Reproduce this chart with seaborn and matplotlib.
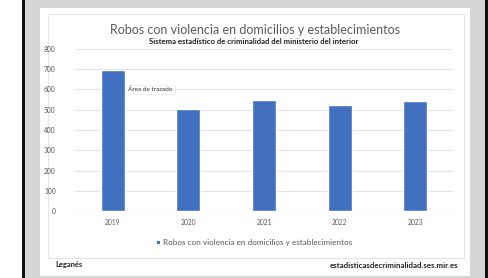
import matplotlib
matplotlib.use("Agg")
import matplotlib.pyplot as plt
from matplotlib.patches import Rectangle
import pandas as pd
import seaborn as sns

years = ["2019", "2020", "2021", "2022", "2023"]
robos = [698, 502, 548, 523, 543]
serie = "Robos con violencia en domicilios y establecimientos"
titulo = "Robos con violencia en domicilios y establecimientos"
subtitulo = "Sistema estadístico de criminalidad del ministerio del interior"

df = pd.DataFrame({"year": years, "valor": robos, "serie": serie})

sns.set_theme(style="white")
plt.rcParams["font.family"] = ["Lato", "DejaVu Sans"]

W, H = 489, 278
fig = plt.figure(figsize=(W / 100, H / 100), dpi=100)
fig.patch.set_facecolor("white")


def box(x0, y0, x1, y1, **kw):
    # pixel coords (top-left origin) -> figure rectangle, kept under the axes
    fig.patches.append(Rectangle((x0 / W, 1 - y1 / H), (x1 - x0) / W, (y1 - y0) / H,
                                 transform=fig.transFigure, figure=fig, zorder=-5, **kw))


# frame: black edges, gray surround, white panel, thin inner border
box(22, 0, 25, 278, facecolor="#111111", edgecolor="none")
box(485, 0, 489, 278, facecolor="#111111", edgecolor="none")
box(25, 0, 485, 278, facecolor="#d6d6d6", edgecolor="none")
box(40, 8, 470, 276, facecolor="white", edgecolor="none")
box(48, 14, 464, 258, facecolor="none", edgecolor="#e4e4e4", linewidth=0.8)

ax = fig.add_axes([75 / W, 1 - 211 / H, (453 - 75) / W, (211 - 49) / H])
ax.set_facecolor("none")
sns.barplot(data=df, x="year", y="valor", hue="serie", palette=["#4270c0"],
            saturation=1, width=0.32, ax=ax, legend=False)
ax.set_ylim(0, 800)
ax.set_xlim(-0.5, 4.5)
ax.set_yticks(range(0, 801, 100))
ax.yaxis.grid(True, color="#e3e3e3", linewidth=0.8)
ax.set_axisbelow(True)
for s in ax.spines.values():
    s.set_visible(False)
ax.axhline(0, color="#d9d9d9", linewidth=0.8, zorder=0.5)
ax.set_xlabel("")
ax.set_ylabel("")
ax.tick_params(axis="both", labelsize=4.8, colors="#595959", length=0, pad=6)
ax.tick_params(axis="y", pad=14)

fig.text(255 / W, 1 - 30 / H, titulo, ha="center", va="center",
         fontsize=9.0, color="#595959")
fig.text(254 / W, 1 - 42 / H, subtitulo, ha="center", va="center",
         fontsize=5.6, color="#222222", fontweight="bold")

# legend
fig.patches.append(Rectangle((157 / W, 1 - 244 / H), 3.5 / W, 3.5 / H,
                             transform=fig.transFigure, figure=fig,
                             facecolor="#4270c0", edgecolor="none"))
fig.text(163 / W, 1 - 242 / H, serie, ha="left", va="center",
         fontsize=5.9, color="#595959")

# tooltip
ax.text(128 / W, 1 - 89.5 / H, "Área de trazado", transform=fig.transFigure,
        ha="left", va="center", fontsize=4.6, color="#333333",
        bbox=dict(boxstyle="square,pad=0.35", facecolor="white",
                  edgecolor="#ececec", linewidth=0.5))

fig.text(55 / W, 1 - 265 / H, "Leganés", ha="left", va="center",
         fontsize=5.4, color="#222222", fontweight="bold")
fig.text(458 / W, 1 - 265 / H, "estadisticasdecriminalidad.ses.mir.es",
         ha="right", va="center", fontsize=5.7, color="#222222", fontweight="bold")

fig.savefig("out.png", dpi=100)
